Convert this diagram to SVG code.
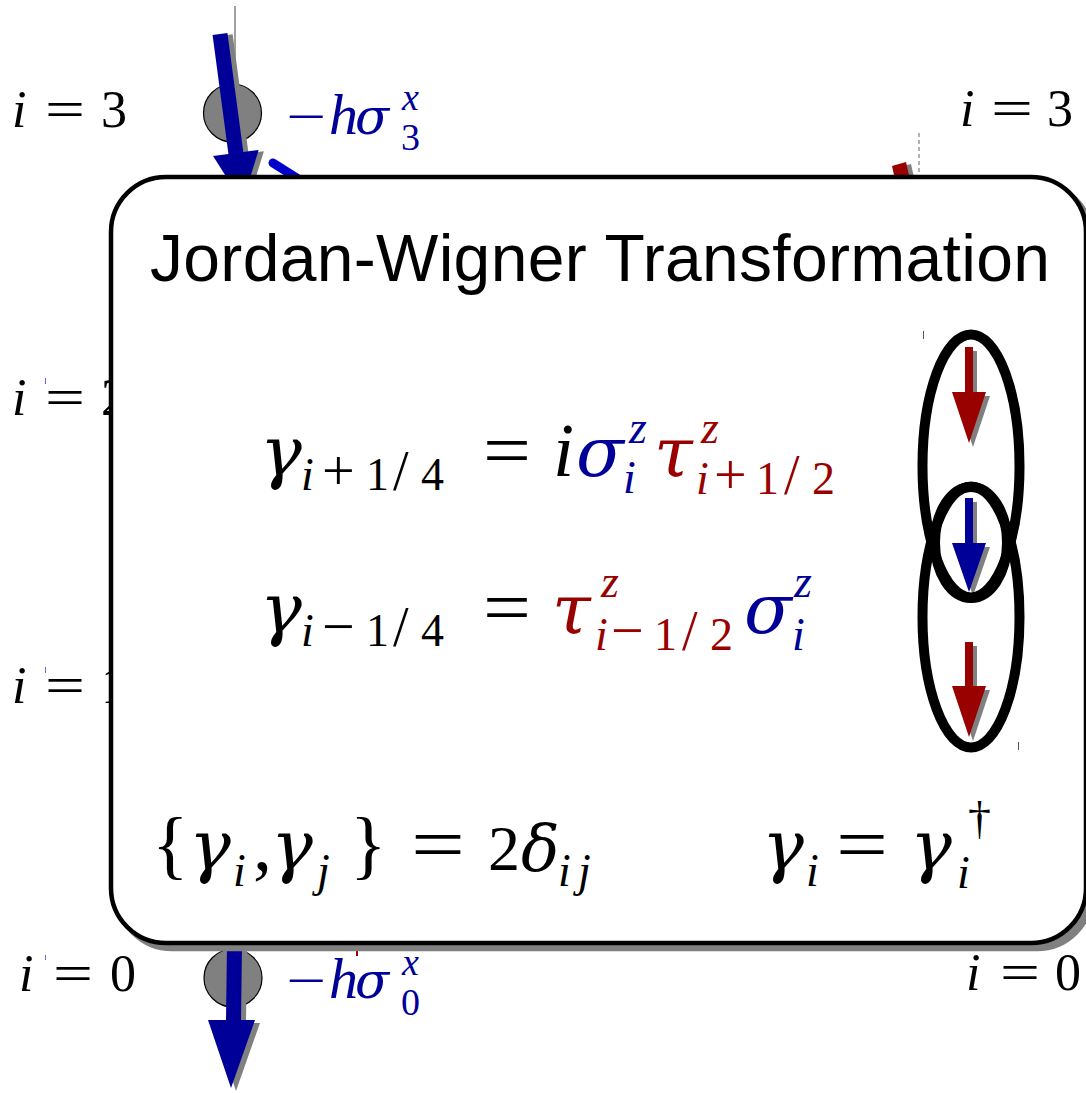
<svg xmlns="http://www.w3.org/2000/svg" width="1086" height="1093" viewBox="0 0 1086 1093">
<style>
.m{font-family:"Liberation Serif",serif;fill:#000}
.gr{font-family:"DejaVu Serif","Liberation Serif",serif;font-style:italic;fill:#000}
.it{font-style:italic}
.b{fill:#000099}
.r{fill:#990000}
.t{font-family:"Liberation Sans",Arial,sans-serif;fill:#000}
.shadow{fill:#808080}
.ell{fill:none;stroke:#000;stroke-width:10}
.g{font-size:70px}
.s{font-size:46px}
.op{font-size:58px}
.sl{font-size:56px}
</style>
<rect width="1086" height="1093" fill="#fff"/>

<!-- background chain (partially hidden by the box) -->
<g id="site-top">
  <line x1="235" y1="6" x2="235" y2="100" stroke="#808080" stroke-width="1.5"/>
  <circle cx="232.5" cy="113" r="29" fill="#808080" stroke="#000" stroke-width="1.2"/>
  <g transform="translate(220,34) rotate(-7.6)">
    <polygon class="shadow" transform="translate(5,2)" points="-7.5,0 7.5,0 7.5,120 23,120 0,170 -23,120 -7.5,120"/>
    <polygon fill="#000099" points="-7.5,0 7.5,0 7.5,120 23,120 0,170 -23,120 -7.5,120"/>
  </g>
  <line x1="273" y1="163" x2="300" y2="180" stroke="#0000cc" stroke-width="9" stroke-linecap="round"/>
</g>
<g id="site-top-right">
  <line x1="919" y1="133" x2="919" y2="178" stroke="#808080" stroke-width="1.2" stroke-dasharray="4,3"/>
  <polygon class="shadow" points="897,167 911,164 915,182 901,185"/>
  <polygon fill="#990000" points="892,166 906,162 910,180 896,184"/>
</g>
<g id="site-bottom">
  <circle cx="233" cy="978" r="29" fill="#808080" stroke="#000" stroke-width="1.2"/>
  <polygon class="shadow" transform="translate(5,3)" points="227,945 242,945 241,1020 255,1020 231,1088 208,1020 226,1020"/>
  <polygon fill="#000099" points="227,945 242,945 241,1020 255,1020 231,1088 208,1020 226,1020"/>
  <line x1="357" y1="950" x2="357" y2="956" stroke="#990000" stroke-width="2"/>
</g>

<!-- site labels -->
<g id="label-left-3">
  <text class="m it" x="12" y="127" font-size="52">i</text>
  <text class="m" x="45" y="127" font-size="52" textLength="40" lengthAdjust="spacingAndGlyphs">=</text>
  <text class="m" x="101" y="127" font-size="52">3</text>
</g>
<g id="label-left-2">
  <text class="m it" x="12" y="415" font-size="52">i</text>
  <text class="m" x="45" y="415" font-size="52" textLength="40" lengthAdjust="spacingAndGlyphs">=</text>
  <text class="m" x="101" y="415" font-size="52">2</text>
</g>
<g id="label-left-1">
  <text class="m it" x="12" y="703" font-size="52">i</text>
  <text class="m" x="45" y="703" font-size="52" textLength="40" lengthAdjust="spacingAndGlyphs">=</text>
  <text class="m" x="101" y="703" font-size="52">1</text>
</g>
<g id="label-left-0">
  <text class="m it" x="19" y="991" font-size="52">i</text>
  <text class="m" x="53" y="991" font-size="52" textLength="40" lengthAdjust="spacingAndGlyphs">=</text>
  <text class="m" x="110" y="991" font-size="52">0</text>
</g>
<g id="label-right-3">
  <text class="m it" x="960" y="126" font-size="52">i</text>
  <text class="m" x="991" y="126" font-size="52" textLength="42" lengthAdjust="spacingAndGlyphs">=</text>
  <text class="m" x="1047" y="126" font-size="52">3</text>
</g>
<g id="label-right-0">
  <text class="m it" x="966" y="990" font-size="52">i</text>
  <text class="m" x="1000" y="990" font-size="52" textLength="40" lengthAdjust="spacingAndGlyphs">=</text>
  <text class="m" x="1055" y="990" font-size="52">0</text>
</g>
<g id="field-top">
  <text class="m b" x="286" y="134" font-size="52" textLength="40" lengthAdjust="spacingAndGlyphs">−</text>
  <text class="m it b" x="329" y="134" font-size="58">h</text>
  <text class="gr b" x="355" y="134" font-size="50">σ</text>
  <text class="m it b" x="402" y="110" font-size="38">x</text>
  <text class="m b" x="401" y="150" font-size="38">3</text>
</g>
<g id="field-bottom">
  <text class="m b" x="286" y="998" font-size="52" textLength="40" lengthAdjust="spacingAndGlyphs">−</text>
  <text class="m it b" x="329" y="998" font-size="58">h</text>
  <text class="gr b" x="355" y="998" font-size="50">σ</text>
  <text class="m it b" x="402" y="975" font-size="38">x</text>
  <text class="m b" x="401" y="1015" font-size="38">0</text>
</g>
<g id="ticks" stroke="#6666dd" stroke-width="1">
  <line x1="45.5" y1="378" x2="45.5" y2="384"/>
  <line x1="45.5" y1="667" x2="45.5" y2="673"/>
  <line x1="45.5" y1="955" x2="45.5" y2="960"/>
</g>

<!-- main box -->
<g id="jw-box">
  <rect x="117" y="183" width="975" height="766" rx="55" fill="#808080" stroke="#808080" stroke-width="4.5"/>
  <rect x="111" y="177" width="975" height="766" rx="55" fill="#fff" stroke="#000" stroke-width="4.5"/>
  <text class="t" x="150" y="281" font-size="66" textLength="900">Jordan-Wigner Transformation</text>

  <!-- gamma_{i+1/4} = i sigma_i^z tau_{i+1/2}^z -->
  <g id="eq1">
    <text class="gr g" x="260" y="476">γ</text>
    <text class="m s" y="490"><tspan class="it" x="301">i</tspan><tspan class="op" x="322">+</tspan><tspan x="366">1</tspan><tspan class="sl" x="393">/</tspan><tspan x="421">4</tspan></text>
    <text class="m" x="483" y="476" font-size="76" textLength="48" lengthAdjust="spacingAndGlyphs">=</text>
    <text class="m it" x="553" y="476" font-size="76">i</text>
    <text class="gr b g" x="576" y="476">σ</text>
    <text class="m it b s" x="629" y="443">z</text>
    <text class="m it b s" x="623" y="493">i</text>
    <text class="gr r g" x="654" y="476">τ</text>
    <text class="m it r s" x="701" y="443">z</text>
    <text class="m it r s" x="696" y="494">i</text>
    <text class="m r s" y="494"><tspan class="op" x="714">+</tspan><tspan x="756">1</tspan><tspan class="sl" x="784">/</tspan><tspan x="812">2</tspan></text>
  </g>

  <!-- gamma_{i-1/4} = tau_{i-1/2}^z sigma_i^z -->
  <g id="eq2">
    <text class="gr g" x="260" y="633">γ</text>
    <text class="m s" y="646"><tspan class="it" x="301">i</tspan><tspan class="op" x="322">−</tspan><tspan x="366">1</tspan><tspan class="sl" x="393">/</tspan><tspan x="421">4</tspan></text>
    <text class="m" x="483" y="633" font-size="76" textLength="48" lengthAdjust="spacingAndGlyphs">=</text>
    <text class="gr r g" x="552" y="633">τ</text>
    <text class="m it r s" x="601" y="597">z</text>
    <text class="m it r s" x="595" y="650">i</text>
    <text class="m r s" y="650"><tspan class="op" x="611">−</tspan><tspan x="654">1</tspan><tspan class="sl" x="682">/</tspan><tspan x="710">2</tspan></text>
    <text class="gr b g" x="744" y="633">σ</text>
    <text class="m it b s" x="794" y="597">z</text>
    <text class="m it b s" x="792" y="650">i</text>
  </g>

  <!-- {gamma_i, gamma_j} = 2 delta_ij ; gamma_i = gamma_i^dagger -->
  <g id="eq3">
    <text class="m" x="152" y="870" font-size="76">{</text>
    <text class="gr g" x="189" y="870">γ</text>
    <text class="m it s" x="233" y="886">i</text>
    <text class="m" x="253" y="870" font-size="76">,</text>
    <text class="gr g" x="271" y="870">γ</text>
    <text class="m it s" x="317" y="886">j</text>
    <text class="m" x="350" y="870" font-size="76">}</text>
    <text class="m" x="411" y="870" font-size="76" textLength="54" lengthAdjust="spacingAndGlyphs">=</text>
    <text class="m" x="488" y="870" font-size="64">2</text>
    <text class="gr" x="521" y="870" font-size="64">δ</text>
    <text class="m it s" y="886"><tspan x="558">i</tspan><tspan x="578">j</tspan></text>

    <text class="gr g" x="762" y="870">γ</text>
    <text class="m it s" x="806" y="886">i</text>
    <text class="m" x="836" y="870" font-size="76" textLength="52" lengthAdjust="spacingAndGlyphs">=</text>
    <text class="gr g" x="910" y="870">γ</text>
    <text class="m it s" x="957" y="888">i</text>
    <text class="m" x="968" y="834" font-size="46">†</text>
  </g>

  <!-- Majorana pairing sketch -->
  <g id="pairing">
    <line x1="923.5" y1="331" x2="923.5" y2="339" stroke="#555" stroke-width="1"/>
    <line x1="1018.5" y1="742" x2="1018.5" y2="750" stroke="#555" stroke-width="1"/>
    <g id="arrow-red-top">
      <polygon class="shadow" transform="translate(4,4)" points="965,347 973,347 973,392 986,392 969,443 952,392 965,392"/>
      <polygon fill="#990000" points="965,347 973,347 973,392 986,392 969,443 952,392 965,392"/>
    </g>
    <g id="arrow-blue-mid">
      <polygon class="shadow" transform="translate(4,4)" points="965,498 973,498 973,543 986,543 969,592 952,543 965,543"/>
      <polygon fill="#000099" points="965,498 973,498 973,543 986,543 969,592 952,543 965,543"/>
    </g>
    <g id="arrow-red-bottom">
      <polygon class="shadow" transform="translate(4,4)" points="965,642 973,642 973,686 986,686 969,737 952,686 965,686"/>
      <polygon fill="#990000" points="965,642 973,642 973,686 986,686 969,737 952,686 965,686"/>
    </g>
    <ellipse class="ell" cx="971" cy="466" rx="48.5" ry="131.5"/>
    <ellipse class="ell" cx="971" cy="617" rx="48.5" ry="130.5"/>
    <ellipse class="ell" cx="971" cy="542.5" rx="36" ry="55.5" stroke-width="9"/>
  </g>
</g>
<g id="connectors"></g>
</svg>
